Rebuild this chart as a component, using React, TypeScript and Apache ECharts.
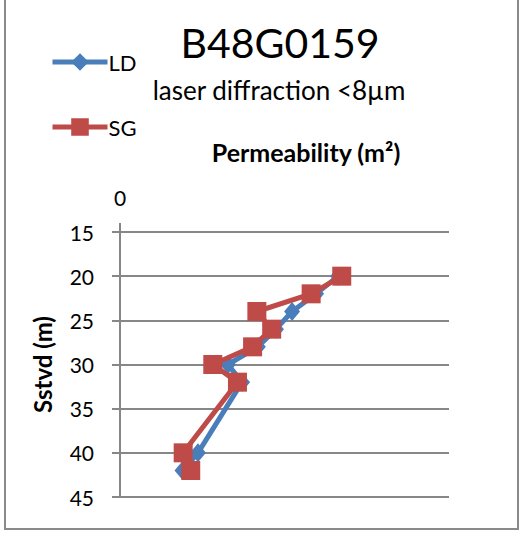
import React, { useEffect, useRef } from "react";
import * as echarts from "echarts";

// Depth (Sstvd, m) of each sample
const depths: number[] = [20, 22, 24, 26, 28, 30, 32, 40, 42];
// Permeability, in units of 1e-15 m²
const ldPermeability: number[] = [6.63, 5.96, 5.23, 4.74, 4.19, 3.28, 3.71, 2.37, 1.9];
const sgPermeability: number[] = [6.74, 5.81, 4.16, 4.61, 4.03, 2.82, 3.57, 1.92, 2.15];
const seriesNames: string[] = ["LD", "SG"];
const depthTicks = { min: 15, max: 45, step: 5 };
const permeabilityRange = { min: 0, max: 10 };

const FONT = "Lato, 'Open Sans', sans-serif";
const BLUE = "#4A7EBB";
const RED = "#BE4B48";
const GRID = "#878787";

const pairs = (xs: number[]) => xs.map((x, i) => [x, depths[i]]);

export default function App() {
  const ref = useRef<HTMLDivElement>(null);

  useEffect(() => {
    if (!ref.current) return;
    const chart = echarts.init(ref.current, null, { renderer: "svg" });
    chart.setOption({
      animation: false,
      backgroundColor: "#ffffff",
      textStyle: { fontFamily: FONT },
      grid: { left: 120, right: 72, top: 232, bottom: 39, containLabel: false },
      legend: {
        orient: "vertical",
        left: 45,
        top: 46,
        itemWidth: 55,
        itemHeight: 22,
        itemGap: 43,
        lineStyle: { width: 5 },
        textStyle: { fontFamily: FONT, fontSize: 22, color: "#000", padding: [0, 0, 0, -4] },
        data: seriesNames,
      },
      xAxis: {
        type: "value",
        position: "top",
        min: permeabilityRange.min,
        max: permeabilityRange.max,
        axisLine: { show: false },
        axisTick: { show: false },
        splitLine: { show: false },
        axisLabel: {
          margin: 24,
          fontSize: 21,
          color: "#000",
          fontFamily: FONT,
          formatter: (v: number) => (v === permeabilityRange.min ? "0" : ""),
        },
      },
      yAxis: {
        type: "value",
        inverse: true,
        min: depthTicks.min,
        max: depthTicks.max,
        interval: depthTicks.step,
        name: "Sstvd (m)",
        nameLocation: "middle",
        nameGap: 66,
        nameTextStyle: { fontFamily: FONT, fontSize: 24, fontWeight: "bold", color: "#000" },
        axisLine: { show: true, lineStyle: { color: GRID, width: 2 } },
        axisTick: { show: true, length: 8, lineStyle: { color: GRID, width: 2 } },
        splitLine: { show: true, lineStyle: { color: GRID, width: 2 } },
        axisLabel: { margin: 26, fontSize: 21, color: "#000", fontFamily: FONT },
      },
      graphic: [
        {
          type: "rect",
          shape: { x: 5, y: -10, width: 513, height: 539 },
          style: { fill: "none", stroke: "#8a8a8a", lineWidth: 2 },
          silent: true,
        },
        {
          type: "line",
          shape: { x1: 120, y1: 223, x2: 120, y2: 232 },
          style: { stroke: GRID, lineWidth: 2 },
          silent: true,
        },
        {
          type: "text",
          x: 280,
          y: 42,
          style: {
            text: "B48G0159",
            fontFamily: FONT,
            fontSize: 41,
            fill: "#000",
            textAlign: "center",
            textVerticalAlign: "middle",
          },
        },
        {
          type: "text",
          x: 279,
          y: 90,
          style: {
            text: "laser diffraction <8µm",
            fontFamily: FONT,
            fontSize: 26,
            fill: "#000",
            textAlign: "center",
            textVerticalAlign: "middle",
          },
        },
        {
          type: "text",
          x: 306,
          y: 152,
          style: {
            text: "Permeability (m²)",
            fontFamily: FONT,
            fontSize: 25,
            fontWeight: "bold",
            fill: "#000",
            textAlign: "center",
            textVerticalAlign: "middle",
          },
        },
      ],
      series: [
        {
          name: seriesNames[0],
          type: "line",
          data: pairs(ldPermeability),
          symbol: "diamond",
          symbolSize: [16, 19],
          itemStyle: { color: BLUE },
          lineStyle: { color: BLUE, width: 5 },
          z: 2,
        },
        {
          name: seriesNames[1],
          type: "line",
          data: pairs(sgPermeability),
          symbol: "rect",
          symbolSize: 19,
          itemStyle: { color: RED },
          lineStyle: { color: RED, width: 5 },
          z: 3,
        },
      ],
    });
    return () => chart.dispose();
  }, []);

  return (
    <div
      ref={ref}
      style={{ position: "absolute", left: 0, top: 0, width: 521, height: 536 }}
    />
  );
}
